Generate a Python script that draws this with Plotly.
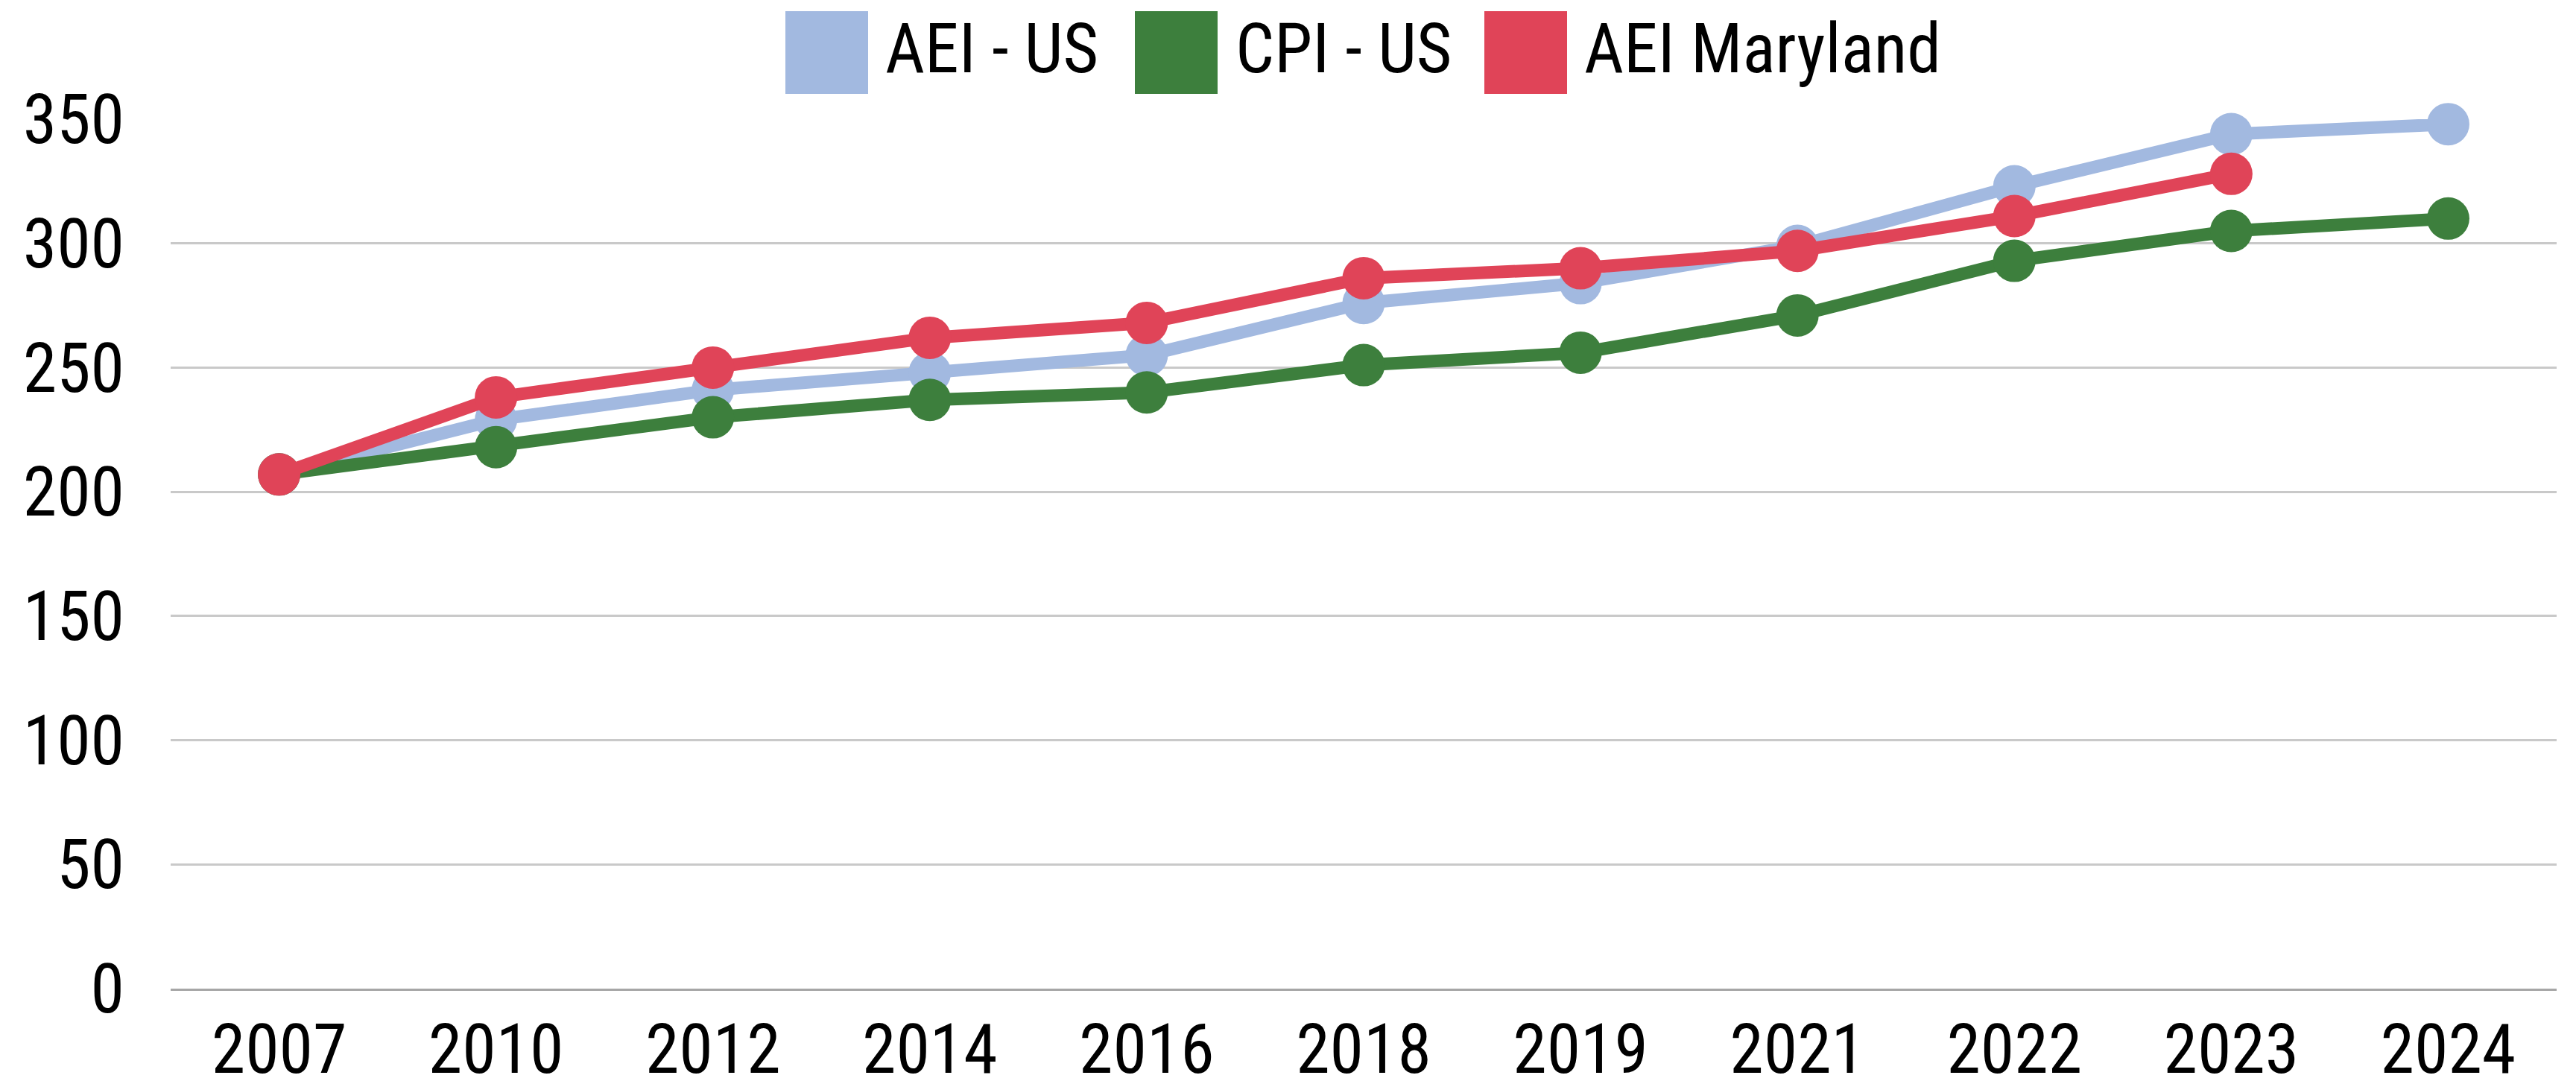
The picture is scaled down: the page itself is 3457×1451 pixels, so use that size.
import plotly.graph_objects as go

years = ['2007', '2010', '2012', '2014', '2016', '2018', '2019', '2021', '2022', '2023', '2024']
aei_us = [207, 229, 241, 248, 255, 276, 284, 299, 323, 344, 348]
cpi_us = [207, 218, 230, 237, 240, 251, 256, 271, 293, 305, 310]
aei_md = [207, 238, 250, 262, 268, 286, 290, 297, 311, 328, None]

series_names = ['AEI - US', 'CPI - US', 'AEI Maryland']
series_colors = ['#A2B9E0', '#3D7F3D', '#E04458']

FONT = 'Liberation Sans Narrow, Roboto Condensed, Roboto, sans-serif'
OFF = 8  # page body margin
W, H = 3457 - 2 * OFF, 1451 - 2 * OFF
L, T = 229 - OFF, 160 - OFF
R = W - (3431 - OFF)
B = H - (1327 - OFF)
PW, PH = W - L - R, H - T - B


def px_x(x):
    return (x - OFF - L) / PW


def px_y(y):
    return (H - B - (y - OFF)) / PH


fig = go.Figure()
for name, vals, col in zip(series_names, [aei_us, cpi_us, aei_md], series_colors):
    fig.add_trace(go.Scatter(x=years, y=vals, name=name, mode='lines+markers',
                             line=dict(color=col, width=17),
                             marker=dict(color=col, size=57),
                             cliponaxis=False, showlegend=False))

# legend drawn by hand: big squares like the original
legend_boxes = [(1054, 1186), (1523, 1656), (1992, 2124)]
shapes = []
annotations = []
for (sq_x, tx_x), name, col in zip(legend_boxes, series_names, series_colors):
    shapes.append(dict(type='rect', xref='paper', yref='paper',
                       x0=px_x(sq_x), x1=px_x(sq_x + 111),
                       y0=px_y(126), y1=px_y(15),
                       fillcolor=col, line=dict(width=0)))
    annotations.append(dict(xref='paper', yref='paper', x=px_x(tx_x), y=px_y(66),
                            xanchor='left', yanchor='middle', showarrow=False,
                            text=name, font=dict(family=FONT, size=92, color='black')))

fig.update_layout(
    width=W, height=H,
    margin=dict(l=L, r=R, t=T, b=B, autoexpand=False),
    plot_bgcolor='white', paper_bgcolor='white',
    font=dict(family=FONT, size=92, color='black'),
    shapes=shapes, annotations=annotations,
    xaxis=dict(type='category', range=[-0.5, len(years) - 0.5], automargin=False,
               showgrid=False, showline=True, linecolor='#A6A6A6', linewidth=3,
               ticks='', ticklabelstandoff=0,
               tickfont=dict(family=FONT, size=92, color='black')),
    yaxis=dict(range=[0, 350], dtick=50, automargin=False, showgrid=True,
               gridcolor='#C9C9C9', gridwidth=3, zeroline=False, showline=False,
               ticks='', ticklabelstandoff=61,
               tickfont=dict(family=FONT, size=92, color='black')),
)

fig.write_html("out.html")
